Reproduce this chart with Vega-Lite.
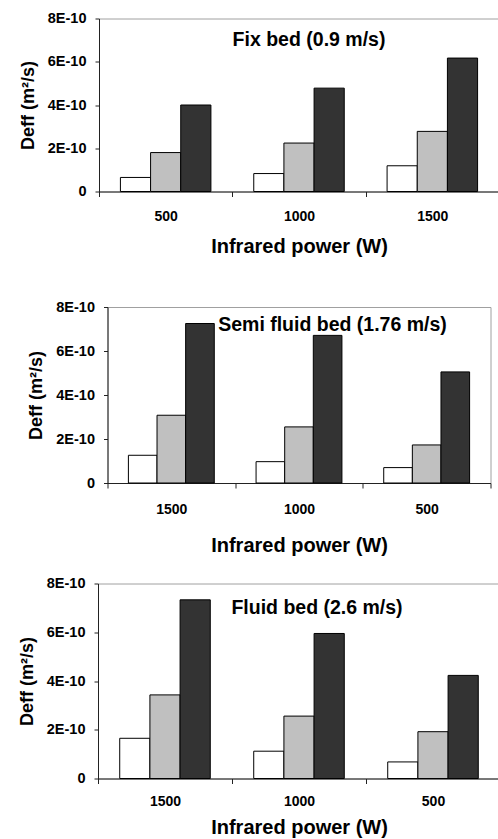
{
  "$schema": "https://vega.github.io/schema/vega-lite/v6.json",
  "padding": {"top": 9.5, "left": 17, "right": 0, "bottom": 0},
  "background": "white",
  "data": {
    "values": [
      {"bed": "fix", "power": "500", "series": "Series 1", "value": 6.5e-11},
      {"bed": "fix", "power": "500", "series": "Series 2", "value": 1.8e-10},
      {"bed": "fix", "power": "500", "series": "Series 3", "value": 4.0e-10},
      {"bed": "fix", "power": "1000", "series": "Series 1", "value": 8.3e-11},
      {"bed": "fix", "power": "1000", "series": "Series 2", "value": 2.24e-10},
      {"bed": "fix", "power": "1000", "series": "Series 3", "value": 4.78e-10},
      {"bed": "fix", "power": "1500", "series": "Series 1", "value": 1.19e-10},
      {"bed": "fix", "power": "1500", "series": "Series 2", "value": 2.78e-10},
      {"bed": "fix", "power": "1500", "series": "Series 3", "value": 6.17e-10},
      {"bed": "semi", "power": "1500", "series": "Series 1", "value": 1.26e-10},
      {"bed": "semi", "power": "1500", "series": "Series 2", "value": 3.08e-10},
      {"bed": "semi", "power": "1500", "series": "Series 3", "value": 7.25e-10},
      {"bed": "semi", "power": "1000", "series": "Series 1", "value": 9.7e-11},
      {"bed": "semi", "power": "1000", "series": "Series 2", "value": 2.55e-10},
      {"bed": "semi", "power": "1000", "series": "Series 3", "value": 6.71e-10},
      {"bed": "semi", "power": "500", "series": "Series 1", "value": 7.0e-11},
      {"bed": "semi", "power": "500", "series": "Series 2", "value": 1.73e-10},
      {"bed": "semi", "power": "500", "series": "Series 3", "value": 5.05e-10},
      {"bed": "fluid", "power": "1500", "series": "Series 1", "value": 1.65e-10},
      {"bed": "fluid", "power": "1500", "series": "Series 2", "value": 3.43e-10},
      {"bed": "fluid", "power": "1500", "series": "Series 3", "value": 7.33e-10},
      {"bed": "fluid", "power": "1000", "series": "Series 1", "value": 1.12e-10},
      {"bed": "fluid", "power": "1000", "series": "Series 2", "value": 2.56e-10},
      {"bed": "fluid", "power": "1000", "series": "Series 3", "value": 5.95e-10},
      {"bed": "fluid", "power": "500", "series": "Series 1", "value": 6.8e-11},
      {"bed": "fluid", "power": "500", "series": "Series 2", "value": 1.92e-10},
      {"bed": "fluid", "power": "500", "series": "Series 3", "value": 4.23e-10}
    ]
  },
  "vconcat": [
    {
      "width": 400,
      "height": 173,
      "title": {"text": "Fix bed (0.9 m/s)", "offset": -40, "dx": 10},
      "transform": [{"filter": "datum.bed == 'fix'"}],
      "mark": {"type": "bar", "stroke": "black", "strokeWidth": 1},
      "encoding": {
        "x": {
          "field": "power", "type": "nominal", "sort": ["500", "1000", "1500"],
          "scale": {"paddingInner": 0, "paddingOuter": 0},
          "axis": {"title": ["Infrared power (W)", " "], "titleLineHeight": 22.5, "labelPadding": 13, "titlePadding": 12.5}
        },
        "xOffset": {"field": "series", "type": "nominal", "scale": {"paddingInner": 0, "paddingOuter": 0.71}},
        "y": {
          "field": "value", "type": "quantitative",
          "scale": {"domain": [0, 8e-10], "nice": false, "zero": true},
          "axis": {"title": "Deff (m²/s)"}
        },
        "fill": {
          "field": "series", "type": "nominal",
          "scale": {"domain": ["Series 1", "Series 2", "Series 3"], "range": ["#ffffff", "#c0c0c0", "#333333"]},
          "legend": null
        }
      }
    },
    {
      "width": 383,
      "height": 176,
      "title": {"text": "Semi fluid bed (1.76 m/s)", "offset": -36.5, "dx": 33.5},
      "transform": [{"filter": "datum.bed == 'semi'"}],
      "mark": {"type": "bar", "stroke": "black", "strokeWidth": 1},
      "encoding": {
        "x": {
          "field": "power", "type": "nominal", "sort": ["1500", "1000", "500"],
          "scale": {"paddingInner": 0, "paddingOuter": 0},
          "axis": {"title": "Infrared power (W)", "labelPadding": 14, "titlePadding": 19}
        },
        "xOffset": {"field": "series", "type": "nominal", "scale": {"paddingInner": 0, "paddingOuter": 0.73}},
        "y": {
          "field": "value", "type": "quantitative",
          "scale": {"domain": [0, 8e-10], "nice": false, "zero": true},
          "axis": {"title": "Deff (m²/s)"}
        },
        "fill": {
          "field": "series", "type": "nominal",
          "scale": {"domain": ["Series 1", "Series 2", "Series 3"], "range": ["#ffffff", "#c0c0c0", "#333333"]},
          "legend": null
        }
      }
    },
    {
      "width": 402,
      "height": 195,
      "title": {"text": "Fluid bed (2.6 m/s)", "offset": -43, "dx": 18},
      "transform": [{"filter": "datum.bed == 'fluid'"}],
      "mark": {"type": "bar", "stroke": "black", "strokeWidth": 1},
      "encoding": {
        "x": {
          "field": "power", "type": "nominal", "sort": ["1500", "1000", "500"],
          "scale": {"paddingInner": 0, "paddingOuter": 0},
          "axis": {"title": "Infrared power (W)", "labelPadding": 11, "titlePadding": 8.5}
        },
        "xOffset": {"field": "series", "type": "nominal", "scale": {"paddingInner": 0, "paddingOuter": 0.72}},
        "y": {
          "field": "value", "type": "quantitative",
          "scale": {"domain": [0, 8e-10], "nice": false, "zero": true},
          "axis": {"title": "Deff (m²/s)"}
        },
        "fill": {
          "field": "series", "type": "nominal",
          "scale": {"domain": ["Series 1", "Series 2", "Series 3"], "range": ["#ffffff", "#c0c0c0", "#333333"]},
          "legend": null
        }
      }
    }
  ],
  "spacing": 18.5,
  "center": {"column": true},
  "align": {"row": "none", "column": "all"},
  "bounds": "full",
  "resolve": {"scale": {"x": "independent", "xOffset": "independent", "y": "independent", "fill": "shared"}},
  "config": {
    "font": "Liberation Sans",
    "view": {"stroke": "#a0a0a0", "strokeWidth": 1},
    "title": {"fontSize": 19.5, "fontWeight": "bold", "color": "black", "anchor": "middle", "frame": "group"},
    "axis": {
      "grid": false,
      "domainColor": "#222222",
      "tickColor": "#222222",
      "labelColor": "black",
      "titleColor": "black",
      "labelFontWeight": "bold",
      "titleFontWeight": "bold"
    },
    "axisX": {
      "labelAngle": 0,
      "labelFontSize": 14,
      "titleFontSize": 20,
      "tickSize": 5,
      "tickBand": "extent"
    },
    "axisY": {
      "values": [0, 2e-10, 4e-10, 6e-10, 8e-10],
      "labelExpr": "datum.value == 0 ? '0' : round(datum.value * 1e10) + 'E-10'",
      "labelFontSize": 14.5,
      "labelPadding": 9,
      "tickSize": 4,
      "titleFontSize": 18,
      "titlePadding": 10
    }
  }
}
